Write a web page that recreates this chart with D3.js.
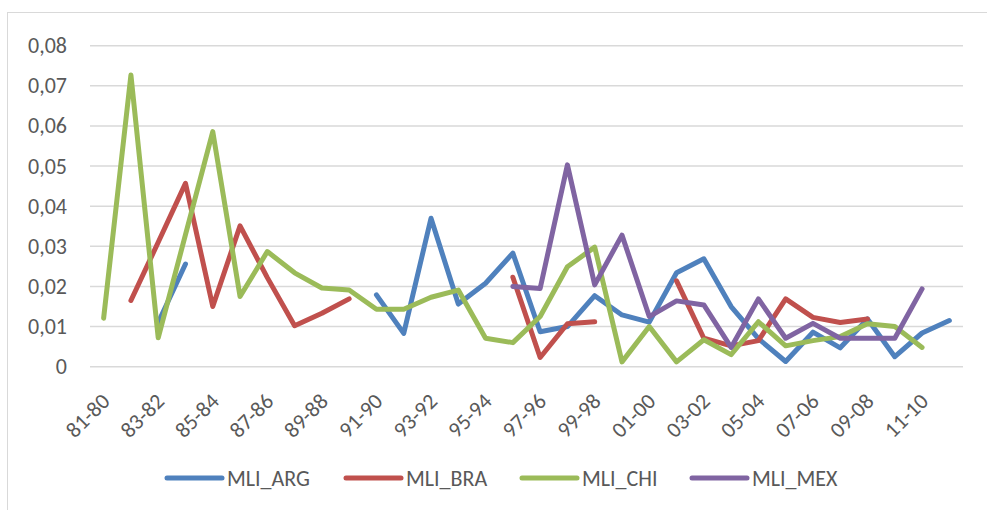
<!DOCTYPE html>
<html>
<head>
<meta charset="utf-8">
<script src="https://cdn.jsdelivr.net/npm/d3@7"></script>
<style>
  body { margin: 0; background: #fff; }
  text { font-family: Carlito, Calibri, Lato, sans-serif; fill: #595959; }
</style>
</head>
<body>
<div class="canvas"></div>
<script>
// categories (year pairs)
const categories = ["81-80","82-81","83-82","84-83","85-84","86-85","87-86","88-87","89-88","90-89",
  "91-90","92-91","93-92","94-93","95-94","96-95","97-96","98-97","99-98","00-99",
  "01-00","02-01","03-02","04-03","05-04","06-05","07-06","08-07","09-08","10-09",
  "11-10","12-11"];

// series values (null = gap)
const mliArg = [null, null, 0.0110, 0.0256, null, null, null, null, null, null,
  0.0179, 0.0083, 0.0370, 0.0156, 0.0208, 0.0283, 0.0087, 0.0100, 0.0177, 0.0129,
  0.0111, 0.0234, 0.0269, 0.0150, 0.0070, 0.0013, 0.0086, 0.0047, 0.0119, 0.0025,
  0.0084, 0.0115];
const mliBra = [null, 0.0165, 0.0310, 0.0457, 0.0150, 0.0351, 0.0222, 0.0102, 0.0133, 0.0169,
  null, null, null, null, null, 0.0223, 0.0023, 0.0107, 0.0112, null,
  null, 0.0214, 0.0071, 0.0052, 0.0065, 0.0169, 0.0123, 0.0110, 0.0119, null,
  null, null];
const mliChi = [0.0121, 0.0727, 0.0072, 0.0329, 0.0586, 0.0175, 0.0287, 0.0234, 0.0196, 0.0191,
  0.0143, 0.0143, 0.0173, 0.0191, 0.0071, 0.0060, 0.0125, 0.0249, 0.0298, 0.0012,
  0.0100, 0.0012, 0.0067, 0.0030, 0.0112, 0.0052, 0.0065, 0.0075, 0.0107, 0.0100,
  0.0048, null];
const mliMex = [null, null, null, null, null, null, null, null, null, null,
  null, null, null, null, null, 0.0200, 0.0195, 0.0503, 0.0204, 0.0328,
  0.0125, 0.0164, 0.0154, 0.0048, 0.0169, 0.0071, 0.0108, 0.0071, 0.0071, 0.0071,
  0.0194, null];

const seriesNames = ["MLI_ARG", "MLI_BRA", "MLI_CHI", "MLI_MEX"];
const seriesValues = [mliArg, mliBra, mliChi, mliMex];
const colors = ["#4F81BD", "#C0504D", "#9BBB59", "#8064A2"];

// tick labels
const yTicks = [0, 0.01, 0.02, 0.03, 0.04, 0.05, 0.06, 0.07, 0.08];
const xTickLabels = categories.filter((c, i) => i % 2 === 0);

const width = 987, height = 510;
const svg = d3.select(".canvas").append("svg")
  .attr("width", width)
  .attr("height", height);

svg.append("rect")
  .attr("width", width).attr("height", height)
  .attr("fill", "#fff");

// chart area border (only top and left visible in the crop)
svg.append("rect")
  .attr("x", 7.5).attr("y", 12.5)
  .attr("width", 1000).attr("height", 600)
  .attr("fill", "none")
  .attr("stroke", "#D9D9D9")
  .attr("stroke-width", 1);

//scales
const x = d3.scalePoint()
  .domain(categories)
  .range([90, 963])
  .padding(0.5);

const y = d3.scaleLinear()
  .domain([0, 0.08])
  .range([366.7, 45.7]);

//gridlines
svg.append("g")
  .selectAll("line")
  .data(yTicks)
  .enter()
  .append("line")
  .attr("x1", 90)
  .attr("x2", 963)
  .attr("y1", d => y(d))
  .attr("y2", d => y(d))
  .attr("stroke", "#D9D9D9")
  .attr("stroke-width", 1.5);

//y axis
const yAxis = d3.axisLeft(y)
  .tickValues(yTicks)
  .tickSize(0)
  .tickPadding(23)
  .tickFormat(d => d === 0 ? "0" : d3.format(".2f")(d).replace(".", ","));

const yAxisGroup = svg.append("g")
  .attr("transform", "translate(90, 0)")
  .call(yAxis);
yAxisGroup.select(".domain").remove();
yAxisGroup.selectAll("text")
  .style("font-size", "22px")
  .attr("fill", "#595959");

//x axis
const xAxis = d3.axisBottom(x)
  .tickValues(xTickLabels)
  .tickSize(0);

const xAxisGroup = svg.append("g")
  .attr("transform", `translate(0, ${y(0)})`)
  .call(xAxis);
xAxisGroup.select(".domain").remove();
xAxisGroup.selectAll("text")
  .style("font-size", "22px")
  .attr("fill", "#595959")
  .attr("text-anchor", "end")
  .attr("dy", 0)
  .attr("y", 0)
  .attr("transform", "translate(7, 36) rotate(-45)");

//lines
const line = d3.line()
  .defined(d => d != null)
  .x((d, i) => x(categories[i]))
  .y(d => y(d));

svg.append("g")
  .selectAll("path")
  .data(seriesValues)
  .enter()
  .append("path")
  .attr("d", d => line(d))
  .attr("fill", "none")
  .attr("stroke", (d, i) => colors[i])
  .attr("stroke-width", 5)
  .attr("stroke-linejoin", "round")
  .attr("stroke-linecap", "round");

//legend
const legendX = [167, 346, 522, 692];
const legend = svg.append("g")
  .selectAll("g")
  .data(seriesNames)
  .enter()
  .append("g")
  .attr("transform", (d, i) => `translate(${legendX[i]}, 478)`);

legend.append("line")
  .attr("x1", 0).attr("x2", 55)
  .attr("stroke", (d, i) => colors[i])
  .attr("stroke-width", 5)
  .attr("stroke-linecap", "round");

legend.append("text")
  .attr("x", 60)
  .attr("dy", "0.35em")
  .style("font-size", "22px")
  .text(d => d);
</script>
</body>
</html>
